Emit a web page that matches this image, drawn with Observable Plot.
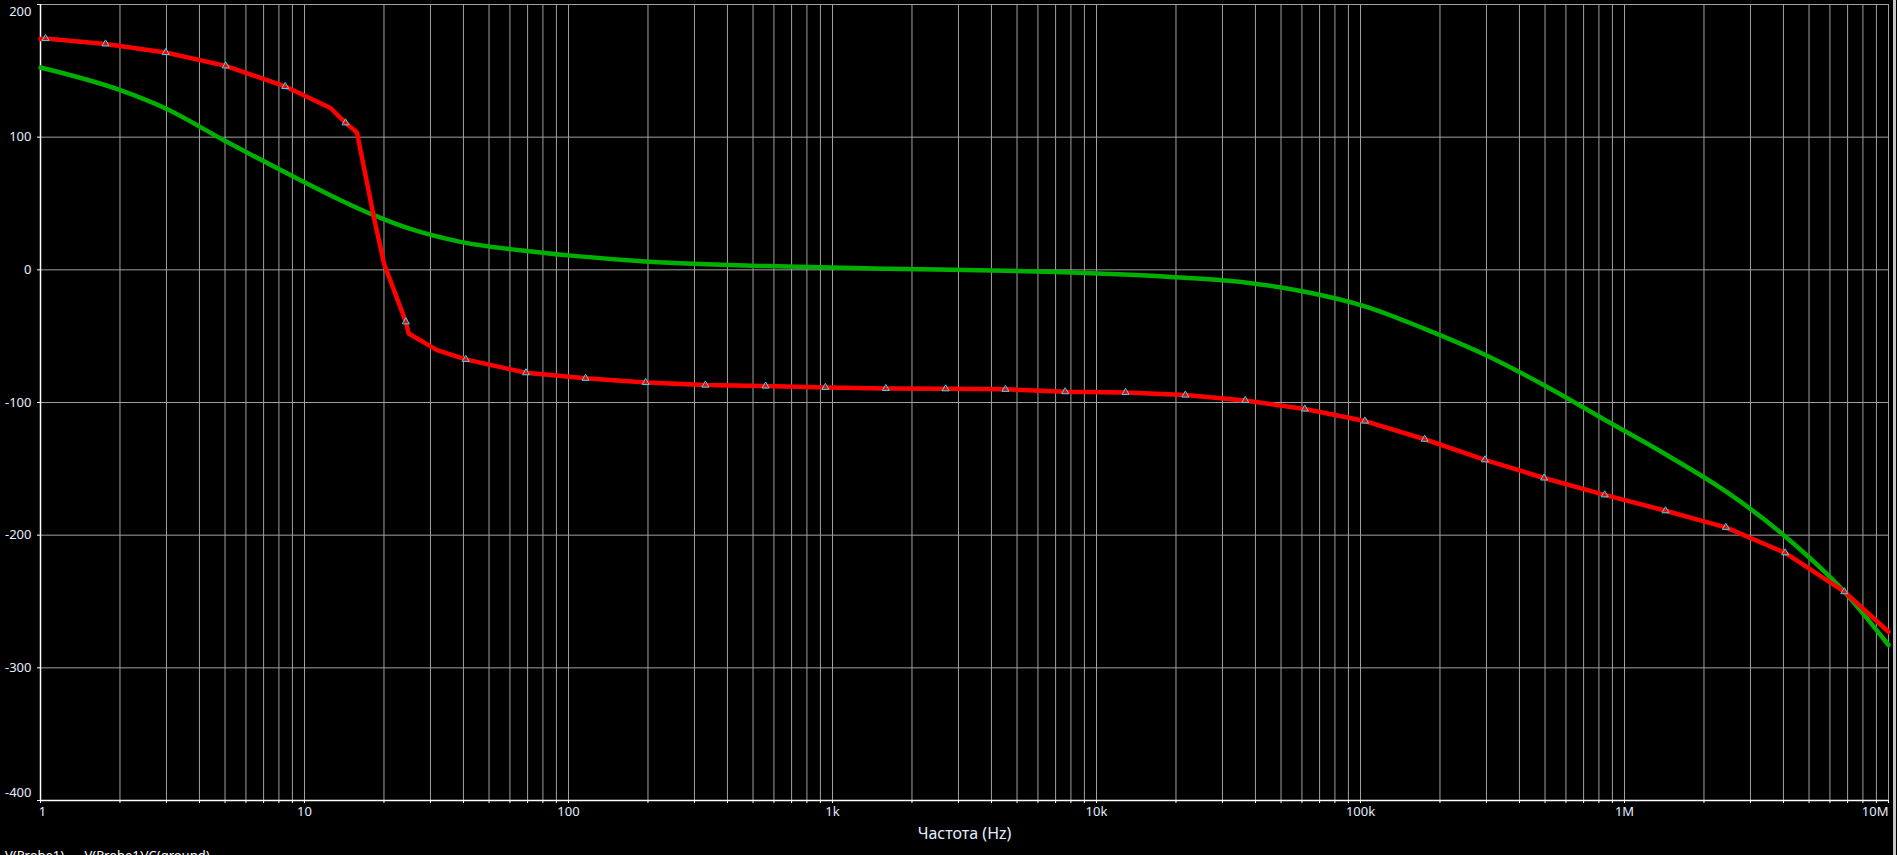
<!DOCTYPE html>
<html><head><meta charset="utf-8">
<script src="https://cdn.jsdelivr.net/npm/d3@7"></script>
<script src="https://cdn.jsdelivr.net/npm/@observablehq/plot@0.6"></script>
<style>
html,body{margin:0;padding:0;background:#000;overflow:hidden;width:1897px;height:855px;position:relative}
#chart svg{display:block}
#legend{position:absolute;left:5px;top:849px;font:13px "Noto Sans",sans-serif;color:#fff;white-space:pre;line-height:13px}
#edge{position:absolute;left:1893px;top:0;width:3px;height:855px;background:#c8c8c8}
</style></head><body>
<div id="chart"></div>
<div id="legend">V(Probe1)      V(Probe1)/C(ground)</div>
<div id="edge"></div>
<script>
// Red trace (phase with markers)
const redFreq   = [1, 1.045, 1.763, 2.98, 5.03, 8.45, 12.55, 14.3, 15.8, 18.3, 20.0, 24.2, 24.8, 31.8, 40.8, 69, 116, 196, 330, 558, 940, 1592, 2681, 4520, 7610, 12880, 21700, 36600, 61500, 104000, 175000, 296000, 496000, 841000, 1.43e6, 2.42e6, 4.06e6, 6.8e6, 1e7];
const redValue  = [174, 174.3, 170.3, 163.8, 153.7, 138.2, 122, 110.8, 103.5, 40, 4.8, -39.2, -48, -60.5, -67.5, -77.6, -81.8, -84.9, -86.9, -87.6, -88.6, -89.4, -89.7, -90.1, -91.9, -92.4, -94.4, -98.5, -104.9, -114, -127.7, -143.2, -156.9, -169.6, -181.6, -194.1, -213.3, -242.6, -272.8];
const redMarker = [0, 1, 1, 1, 1, 1, 0, 1, 0, 0, 0, 1, 0, 0, 1, 1, 1, 1, 1, 1, 1, 1, 1, 1, 1, 1, 1, 1, 1, 1, 1, 1, 1, 1, 1, 1, 1, 1, 0];
// Green trace
const greenFreq  = [1, 1.98, 2.98, 4.95, 9.66, 13.7, 18.3, 25, 39, 67, 100, 195, 561, 1596, 4540, 7550, 12800, 21600, 36600, 61500, 104000, 175000, 296000, 496000, 841000, 1.43e6, 2.42e6, 4.01e6, 6.8e6, 1e7];
const greenValue = [152.5, 135.8, 121.6, 97.7, 67.6, 52.5, 41.2, 31, 21.1, 14.5, 10.9, 6.3, 2.8, 0.8, -0.6, -1.8, -3.5, -6, -9.5, -16.5, -27.5, -44.5, -64, -87, -113, -139, -167, -200, -242.6, -282.8];
// Axes
const yTicks = [200, 100, 0, -100, -200, -300, -400];
const xTickValues = [1, 10, 100, 1e3, 1e4, 1e5, 1e6, 1e7];
const xTickLabels = ["1", "10", "100", "1k", "10k", "100k", "1M", "10M"];
const xTitle = "Частота (Hz)";

const red = redFreq.map((f, i) => ({f, v: redValue[i], m: redMarker[i]}));
const green = greenFreq.map((f, i) => ({f, v: greenValue[i]}));
const xt = xTickValues.map((v, i) => ({v, label: xTickLabels[i]}));
const gridX = d3.range(0, 7).flatMap(k => d3.range(1, 10).map(m => m * 10 ** k)).concat([1e7]);

const labelColor = "#e4eeff";
const font = "'Noto Sans', sans-serif";

const chart = Plot.plot({
  width: 1897, height: 845,
  marginLeft: 40, marginRight: 9, marginTop: 4, marginBottom: 45,
  style: {background: "#000", color: labelColor, fontFamily: font, fontSize: "13px"},
  x: {type: "log", domain: [1, 1e7], axis: null},
  y: {domain: [-400, 200], axis: null},
  marks: [
    Plot.ruleX(gridX, {stroke: "#a0a0a0", strokeWidth: 1}),
    Plot.ruleY(yTicks, {stroke: "#a0a0a0", strokeWidth: 1}),
    Plot.ruleX([1], {stroke: "#ffffff", strokeWidth: 1.5}),
    Plot.ruleY([-400], {stroke: "#ffffff", strokeWidth: 1.5}),
    Plot.ruleX(gridX, {y1: -400, y2: -400, insetBottom: -3, stroke: "#ffffff", strokeWidth: 1}),
    Plot.ruleY(yTicks, {x1: 1, x2: 1, insetLeft: -3, stroke: "#ffffff", strokeWidth: 1}),
    Plot.line(green, {x: "f", y: "v", stroke: "#00b000", strokeWidth: 4.5, curve: "monotone-x"}),
    Plot.line(red, {x: "f", y: "v", stroke: "#ff0000", strokeWidth: 4.5, curve: "linear"}),
    Plot.dot(red.filter(d => d.m), {x: "f", y: "v", symbol: "triangle", r: 2.6, stroke: "#30e0f0", fill: "none", strokeWidth: 1}),
    Plot.text(yTicks.filter(d => d < 200 && d > -400), {y: d => d, text: d => String(d), frameAnchor: "left", textAnchor: "end", dx: -9, fill: labelColor}),
    Plot.text(yTicks.filter(d => d === 200), {y: d => d, text: d => String(d), frameAnchor: "left", textAnchor: "end", dx: -9, dy: 7, fill: labelColor}),
    Plot.text(yTicks.filter(d => d === -400), {y: d => d, text: d => String(d), frameAnchor: "left", textAnchor: "end", dx: -9, dy: -8, fill: labelColor}),
    Plot.text(xt.slice(0, 1), {x: "v", text: "label", frameAnchor: "bottom", dy: 15, dx: 2, fill: labelColor}),
    Plot.text(xt.slice(1, -1), {x: "v", text: "label", frameAnchor: "bottom", dy: 15, fill: labelColor}),
    Plot.text(xt.slice(-1), {x: "v", text: "label", frameAnchor: "bottom", dy: 15, textAnchor: "end", fill: labelColor}),
    Plot.text([xTitle], {frameAnchor: "bottom", dy: 38, fontSize: 16, fill: labelColor})
  ]
});
document.getElementById("chart").appendChild(chart);
</script>
</body></html>
